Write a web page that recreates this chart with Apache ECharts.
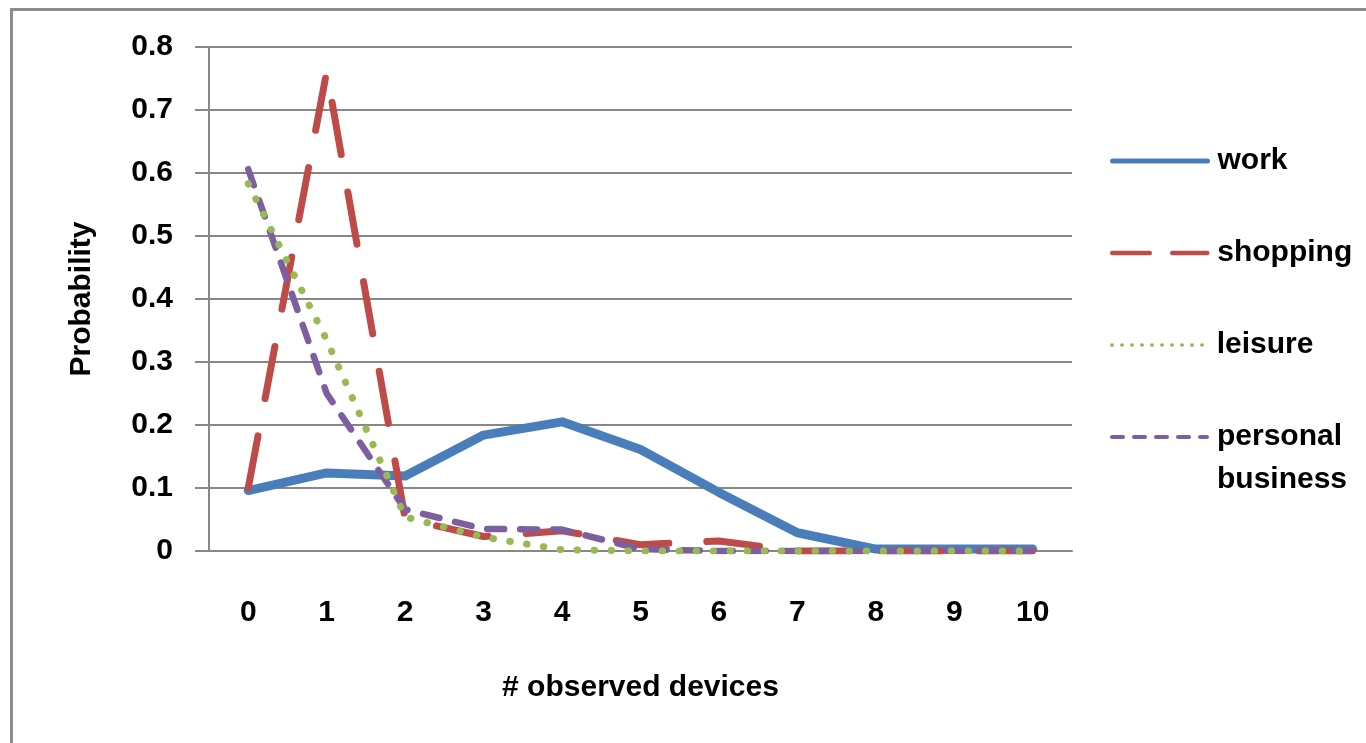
<!DOCTYPE html>
<html>
<head>
<meta charset="utf-8">
<script src="https://cdn.jsdelivr.net/npm/echarts@6/dist/echarts.min.js"></script>
<style>
html,body{margin:0;padding:0;background:#fff;}
#chart{width:1366px;height:743px;}
</style>
</head>
<body>
<div id="chart"></div>
<script>
const categories = ['0','1','2','3','4','5','6','7','8','9','10'];
const work     = [0.096, 0.124, 0.119, 0.184, 0.205, 0.161, 0.093, 0.029, 0.003, 0.003, 0.003];
const shopping = [0.100, 0.761, 0.051, 0.023, 0.032, 0.010, 0.016, 0, 0, 0, 0];
const leisure  = [0.583, 0.335, 0.054, 0.022, 0.002, 0, 0, 0, 0, 0, 0];
const personal = [0.606, 0.250, 0.066, 0.035, 0.034, 0.003, 0, 0, 0, 0, 0];
const yTicks = [0, 0.1, 0.2, 0.3, 0.4, 0.5, 0.6, 0.7, 0.8];

const FONT = 'Liberation Sans';
const GRAY = '#878787';
const COLORS = {work:'#4a7ebb', shopping:'#be4b48', leisure:'#98b954', personal:'#7d5fa0'};

const chart = echarts.init(document.getElementById('chart'), null, {renderer:'canvas'});

const textBase = {color:'#000', fontWeight:'bold', fontSize:30, fontFamily:FONT};

function mkLegend(name, top, lineStyle) {
  return {
    data:[name], orient:'vertical', left:1110, top:top, padding:0,
    itemWidth:95, itemHeight:6,
    itemStyle:{color:'rgba(0,0,0,0)', borderWidth:0},
    textStyle: Object.assign({}, textBase, {lineHeight:43, padding:[0,0,0,5]}),
    lineStyle: lineStyle,
    formatter: n => n === 'personal business' ? '\npersonal\nbusiness' : n
  };
}

const option = {
  animation:false,
  backgroundColor:'#fff',
  graphic:[{
    type:'rect', left:9, top:7, z:-1,
    shape:{x:0, y:0, width:1400, height:800},
    style:{fill:'none', stroke:'#8c8c8c', lineWidth:3}
  }],
  grid:{left:209, right:294, top:47, bottom:192, containLabel:false},
  legend:[
    mkLegend('work', 139.5, {width:5, type:'solid', cap:'round'}),
    mkLegend('shopping', 231.5, {width:4.5, type:[37.5,22.5], cap:'round'}),
    mkLegend('leisure', 323.5, {width:3.5, type:[0.5,9.5], cap:'round'}),
    mkLegend('personal business', 372.5, {width:4, type:[11,11], cap:'round'})
  ],
  xAxis:{
    type:'category', data:categories, boundaryGap:true,
    name:'# observed devices', nameLocation:'middle', nameGap:122,
    nameTextStyle: textBase,
    axisLine:{show:true, lineStyle:{color:GRAY, width:2}},
    axisTick:{show:false},
    axisLabel: Object.assign({}, textBase, {margin:47})
  },
  yAxis:{
    type:'value', min:0, max:0.8, interval:0.1,
    name:'Probability', nameLocation:'middle', nameGap:112, nameRotate:90,
    nameTextStyle: textBase,
    axisLine:{show:true, lineStyle:{color:GRAY, width:2}},
    axisTick:{show:true, length:14, lineStyle:{color:GRAY, width:2}},
    splitLine:{show:true, lineStyle:{color:GRAY, width:2}},
    axisLabel: Object.assign({}, textBase, {margin:36, formatter: v => String(+v.toFixed(1))})
  },
  series:[
    {name:'work', type:'line', data:work, symbol:'none', z:2, color:COLORS.work,
     lineStyle:{color:COLORS.work, width:9, cap:'round', join:'round'}},
    {name:'shopping', type:'line', data:shopping, symbol:'none', z:3, color:COLORS.shopping,
     lineStyle:{color:COLORS.shopping, width:7, type:[53,38], cap:'round', join:'round'}},
    {name:'personal business', type:'line', data:personal, symbol:'none', z:4, color:COLORS.personal,
     lineStyle:{color:COLORS.personal, width:6.5, type:[17,16], cap:'round', join:'round'}},
    {name:'leisure', type:'line', data:leisure, symbol:'none', z:5, color:COLORS.leisure,
     lineStyle:{color:COLORS.leisure, width:7, type:[0.5,16.5], cap:'round', join:'round'}}
  ]
};
chart.setOption(option);
</script>
</body>
</html>
